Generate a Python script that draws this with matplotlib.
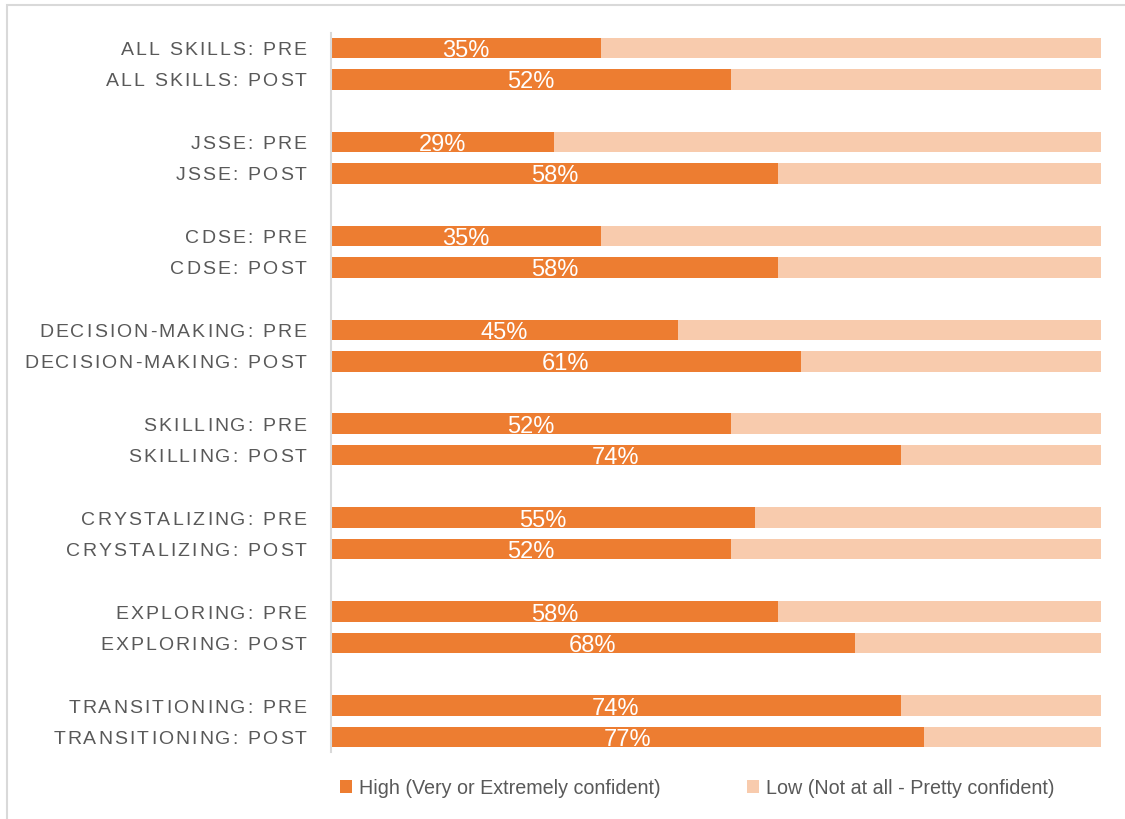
import matplotlib
matplotlib.use('Agg')
import matplotlib.pyplot as plt
from matplotlib.font_manager import FontProperties
from matplotlib.textpath import TextToPath
from matplotlib.patches import Rectangle

# data
skills = ['ALL SKILLS', 'JSSE', 'CDSE', 'DECISION-MAKING', 'SKILLING',
          'CRYSTALIZING', 'EXPLORING', 'TRANSITIONING']
pre_high = [35, 29, 35, 45, 52, 55, 58, 74]
post_high = [52, 58, 58, 61, 74, 52, 68, 77]
legend_labels = ['High (Very or Extremely confident)', 'Low (Not at all - Pretty confident)']

orange = '#ED7D31'
light = '#F8CBAD'
grey = '#595959'

fig = plt.figure(figsize=(11.25, 8.19), dpi=100)
ax = fig.add_axes([331/1125, 1 - 752/819, 770/1125, (752 - 33)/819])

# border of the chart area
fig.patches.append(Rectangle((7/1125, -0.1), 1.2, 1 - 5/819 + 0.1, transform=fig.transFigure,
                             fill=False, edgecolor='#d9d9d9', linewidth=1.5))

ys, highs, names = [], [], []
for i, s in enumerate(skills):
    ys += [3*i, 3*i + 1]
    highs += [pre_high[i], post_high[i]]
    names += [s + ': PRE', s + ': POST']

lows = [100 - h for h in highs]
ax.barh(ys, highs, height=0.66, color=orange, label=legend_labels[0])
ax.barh(ys, lows, left=highs, height=0.66, color=light, label=legend_labels[1])

for y, h in zip(ys, highs):
    ax.text(h/2, y + 0.1, f'{h}%', ha='center', va='center', color='white',
            fontsize=17, family='Liberation Sans')

ax.set_xlim(0, 100)
ax.set_ylim(22.48, -0.48)
ax.set_xticks([])
ax.set_yticks([])
for side in ['top', 'right', 'bottom']:
    ax.spines[side].set_visible(False)
ax.spines['left'].set_color('#d9d9d9')
ax.spines['left'].set_linewidth(1.5)

# category labels with letter spacing
prop = FontProperties(family='Liberation Sans', size=14)
t2p = TextToPath()
spacing = 1.5
pad = 17.5
for y, name in zip(ys, names):
    widths = [t2p.get_text_width_height_descent(c, prop, ismath=False)[0] for c in name]
    total = sum(widths) + spacing*(len(name) - 1)
    x = -pad - total
    for c, w in zip(name, widths):
        ax.annotate(c, xy=(0, y), xycoords=ax.get_yaxis_transform(), xytext=(x, -1.8),
                    textcoords='offset points', ha='left', va='center',
                    fontproperties=prop, color=grey)
        x += w + spacing

leg = fig.legend(loc='center', bbox_to_anchor=(697/1125, 1 - 788/819), ncol=2, frameon=False,
                 prop=FontProperties(family='Liberation Sans', size=14.2), labelcolor=grey,
                 handlelength=0.6, handleheight=0.6, handletextpad=0.35, columnspacing=4.4)

fig.savefig('out.png', dpi=100)
